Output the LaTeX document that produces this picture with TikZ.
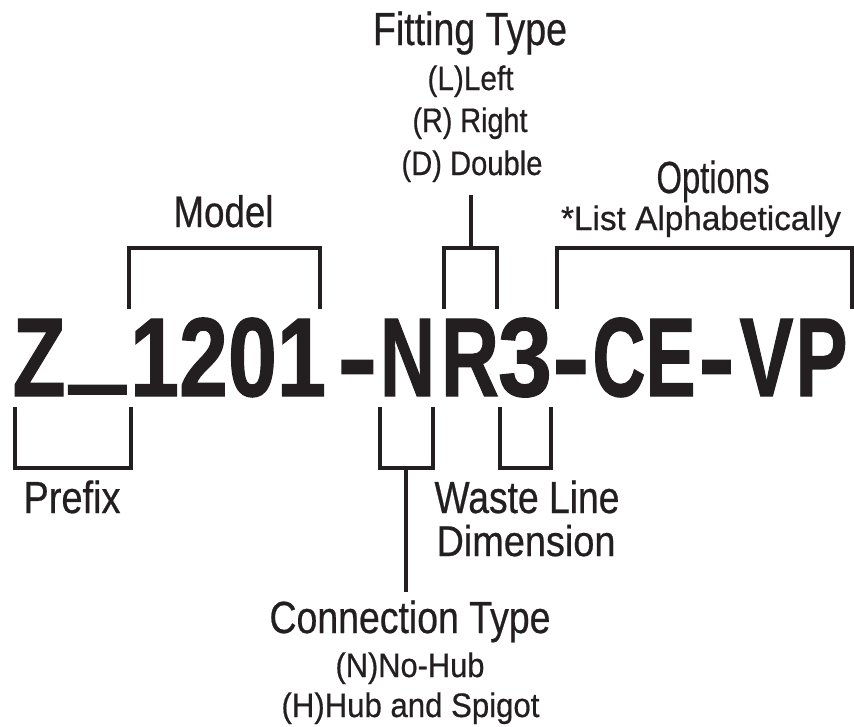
\documentclass[tikz,border=0pt]{standalone}
\usepackage{fontspec}
\setmainfont{Liberation Sans}
\newfontfamily\labfont[FakeBold=0.6]{Liberation Sans}
\newfontfamily\bigfont[FakeBold=1.2]{Liberation Sans Bold}
\usepackage{graphicx}
\definecolor{ink}{HTML}{231F20}
\newlength\hfitlen
\newcommand{\hfit}[2]{\settowidth{\hfitlen}{#2}\scalebox{\fpeval{#1/\hfitlen}}[1]{#2}}
\newcommand{\hfitv}[3]{\settowidth{\hfitlen}{#2}\scalebox{\fpeval{#1/\hfitlen}}[#3]{#2}}
\begin{document}
\begin{tikzpicture}[x=1pt,y=-1pt,
  br/.style={draw=ink, line width=3.3pt, line cap=butt, line join=miter},
  big/.style={inner sep=0pt, anchor=base, text=ink, font=\bigfont\fontsize{112}{120}\selectfont},
  lab/.style={inner sep=0pt, anchor=base, text=ink, font=\labfont\fontsize{45}{50}\selectfont},
  sub/.style={inner sep=0pt, anchor=base, text=ink, font=\labfont\fontsize{34}{38}\selectfont}]
\useasboundingbox (0,0) rectangle (854,726);
% big code
\node[big] (cZ) at (39,396) {\hfit{53}{Z}};
\node[big] (cU) at (97.5,396) {\raisebox{27pt}{\hfitv{56}{\_}{1.8}}};
\node[big] (c1201) at (228,396) {\hfit{196}{1201}};
\node[big] (h1) at (357.5,396) {\hfit{40}{-}};
\node[big] (cN) at (407.5,396) {\hfit{55}{N}};
\node[big] (cR) at (470,396) {\hfit{58}{R}};
\node[big] (c3) at (525,396) {\hfit{54}{3}};
\node[big] (h2) at (571,396) {\hfit{37}{-}};
\node[big] (cC) at (619,396) {\hfit{53}{C}};
\node[big] (cE) at (670.5,396) {\hfit{50}{E}};
\node[big] (h3) at (716.5,396) {\hfit{36}{-}};
\node[big] (cV) at (766.5,396) {\hfit{54}{V}};
\node[big] (cP) at (821.5,396) {\hfit{52}{P}};
% top labels
\node[lab,font=\labfont\fontsize{46.5}{52}\selectfont] (fit) at (470,45) {\hfit{194}{Fitting Type}};
\node[sub] (fL) at (470.5,90) {\hfit{86}{(L)Left}};
\node[sub] (fR) at (470,132) {\hfit{115}{(R) Right}};
\node[sub] (fD) at (472,175) {\hfit{141}{(D) Double}};
\node[lab,font=\labfont\fontsize{44}{50}\selectfont] (model) at (223.5,227) {\hfit{100}{Model}};
\node[lab] (opt) at (713,193) {\hfit{113}{Options}};
\node[sub] (alpha) at (701,230) {\hfit{280}{*List Alphabetically}};
% bottom labels
\node[lab] (prefix) at (72,513) {\hfit{97}{Prefix}};
\node[lab] (waste) at (527,513) {\hfit{185}{Waste Line}};
\node[lab,font=\labfont\fontsize{43}{50}\selectfont] (dim) at (526,556) {\hfit{179}{Dimension}};
\node[lab] (conn) at (410,633) {\hfit{281}{Connection Type}};
\node[sub] (nohub) at (410,677) {\hfit{149}{(N)No-Hub}};
\node[sub] (hub) at (410.5,717) {\hfit{258}{(H)Hub and Spigot}};
% connector anchor points
\coordinate (fitTop) at (471,195);
\coordinate (fitMid) at (471,248);
\coordinate (nrMid) at (406,468);
\coordinate (nrEnd) at (406,592);
% top brackets
\draw[br] (129,309) -- (129,248) -- (320,248) -- (320,309);
\draw[br] (444,309) -- (444,248) -- (497,248) -- (497,309);
\draw[br] (557,309) -- (557,248) -- (852,248) -- (852,309);
\draw[br] (fitMid) -- (fitTop);
% bottom brackets
\draw[br] (15,407) -- (15,468) -- (131,468) -- (131,407);
\draw[br] (380,407) -- (380,468) -- (433,468) -- (433,407);
\draw[br] (500,407) -- (500,468) -- (551,468) -- (551,407);
\draw[br] (nrMid) -- (nrEnd);
\end{tikzpicture}
\end{document}
